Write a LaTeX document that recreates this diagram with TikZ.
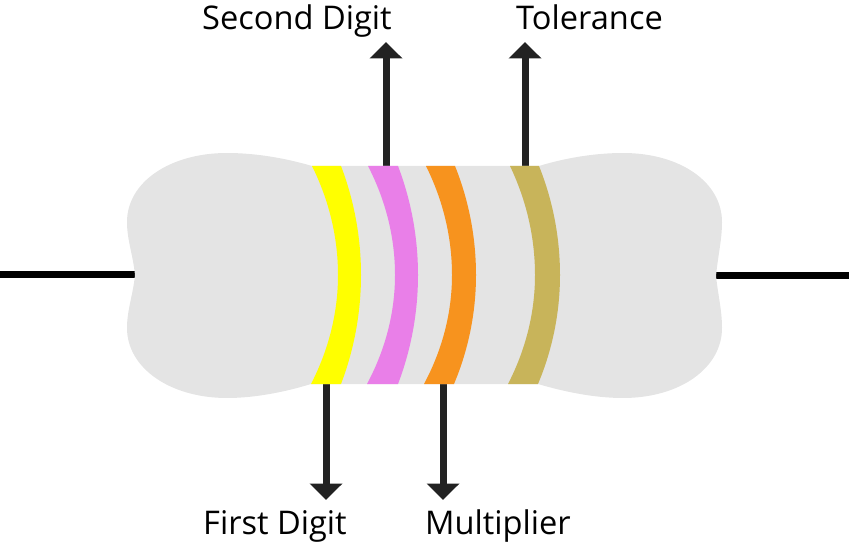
\documentclass[tikz,border=0pt]{standalone}
\usepackage{fontspec}
\setmainfont{Open Sans}
\usetikzlibrary{arrows.meta}
\definecolor{bodygray}{HTML}{E4E4E4}
\definecolor{bandyellow}{HTML}{FFFF00}
\definecolor{bandpink}{HTML}{E97FE8}
\definecolor{bandorange}{HTML}{F7931E}
\definecolor{bandtan}{HTML}{C8B45A}
\definecolor{arrowdark}{HTML}{222222}
\newcommand{\bandshape}[7]{%
  \fill[#1] (#2,166) -- (#3,166)
    .. controls ({#3+0.65*(#5-#3)},200) and (#5,237) .. (#5,275)
    .. controls (#5,313) and ({#7+0.65*(#5-#7)},350) .. (#7,384)
    -- (#6,384)
    .. controls ({#6+0.65*(#4-#6)},350) and (#4,313) .. (#4,275)
    .. controls (#4,237) and ({#2+0.65*(#4-#2)},200) .. (#2,166) -- cycle;}
\tikzset{
  lead/.style={line width=7pt,black},
  pointer/.style={line width=7pt,arrowdark,-{Triangle[length=16.5pt,width=32pt]}},
  lbl/.style={font=\fontsize{32.6}{40}\selectfont,text=black,inner sep=0pt,anchor=base west}
}
\begin{document}
\begin{tikzpicture}[x=1pt,y=-1pt]
\useasboundingbox (0,0) rectangle (849,545);
% leads
\coordinate (leadLa) at (0,274.5);
\coordinate (leadLb) at (136,274.5);
\coordinate (leadRa) at (715,275.5);
\coordinate (leadRb) at (849,275.5);
\draw[lead] (leadLa) -- (leadLb);
\draw[lead] (leadRa) -- (leadRb);
% arrow anchors
\coordinate (secondStart) at (386,167);
\coordinate (secondTip) at (386,42);
\coordinate (tolStart) at (525,167);
\coordinate (tolTip) at (525,42);
\coordinate (firstStart) at (326,383);
\coordinate (firstTip) at (326,500);
\coordinate (multStart) at (443,383);
\coordinate (multTip) at (443,500);
\draw[pointer] (secondStart) -- (secondTip);
\draw[pointer] (tolStart) -- (tolTip);
\draw[pointer] (firstStart) -- (firstTip);
\draw[pointer] (multStart) -- (multTip);
% body
\fill[bodygray] (312,166)
  .. controls (285,158) and (255,153) .. (227,153)
  .. controls (170,153) and (127,182) .. (127,222)
  .. controls (127,240) and (133,255) .. (135,275)
  .. controls (133,295) and (127,310) .. (127,328)
  .. controls (127,368) and (170,398) .. (227,398)
  .. controls (255,398) and (285,392) .. (311,384)
  -- (538,384)
  .. controls (565,392) and (595,398) .. (623,398)
  .. controls (680,398) and (722,368) .. (722,328)
  .. controls (722,310) and (718,295) .. (716,276)
  .. controls (718,255) and (722,240) .. (722,222)
  .. controls (722,182) and (680,153) .. (623,153)
  .. controls (595,153) and (565,158) .. (539,166)
  -- cycle;
% bands
\bandshape{bandyellow}{312}{341}{338}{361}{311}{341}
\bandshape{bandpink}{368}{398}{395}{418}{367}{398}
\bandshape{bandorange}{426}{455}{452}{476}{424}{454}
\bandshape{bandtan}{510}{539}{535}{560}{508}{538}
% labels
\node[lbl] (second) at (202,30) {Second Digit};
\node[lbl] (tolerance) at (516,30) {Tolerance};
\node[lbl] (first) at (203,534) {First Digit};
\node[lbl] (multiplier) at (425,534) {Multiplier};
\end{tikzpicture}
\end{document}
